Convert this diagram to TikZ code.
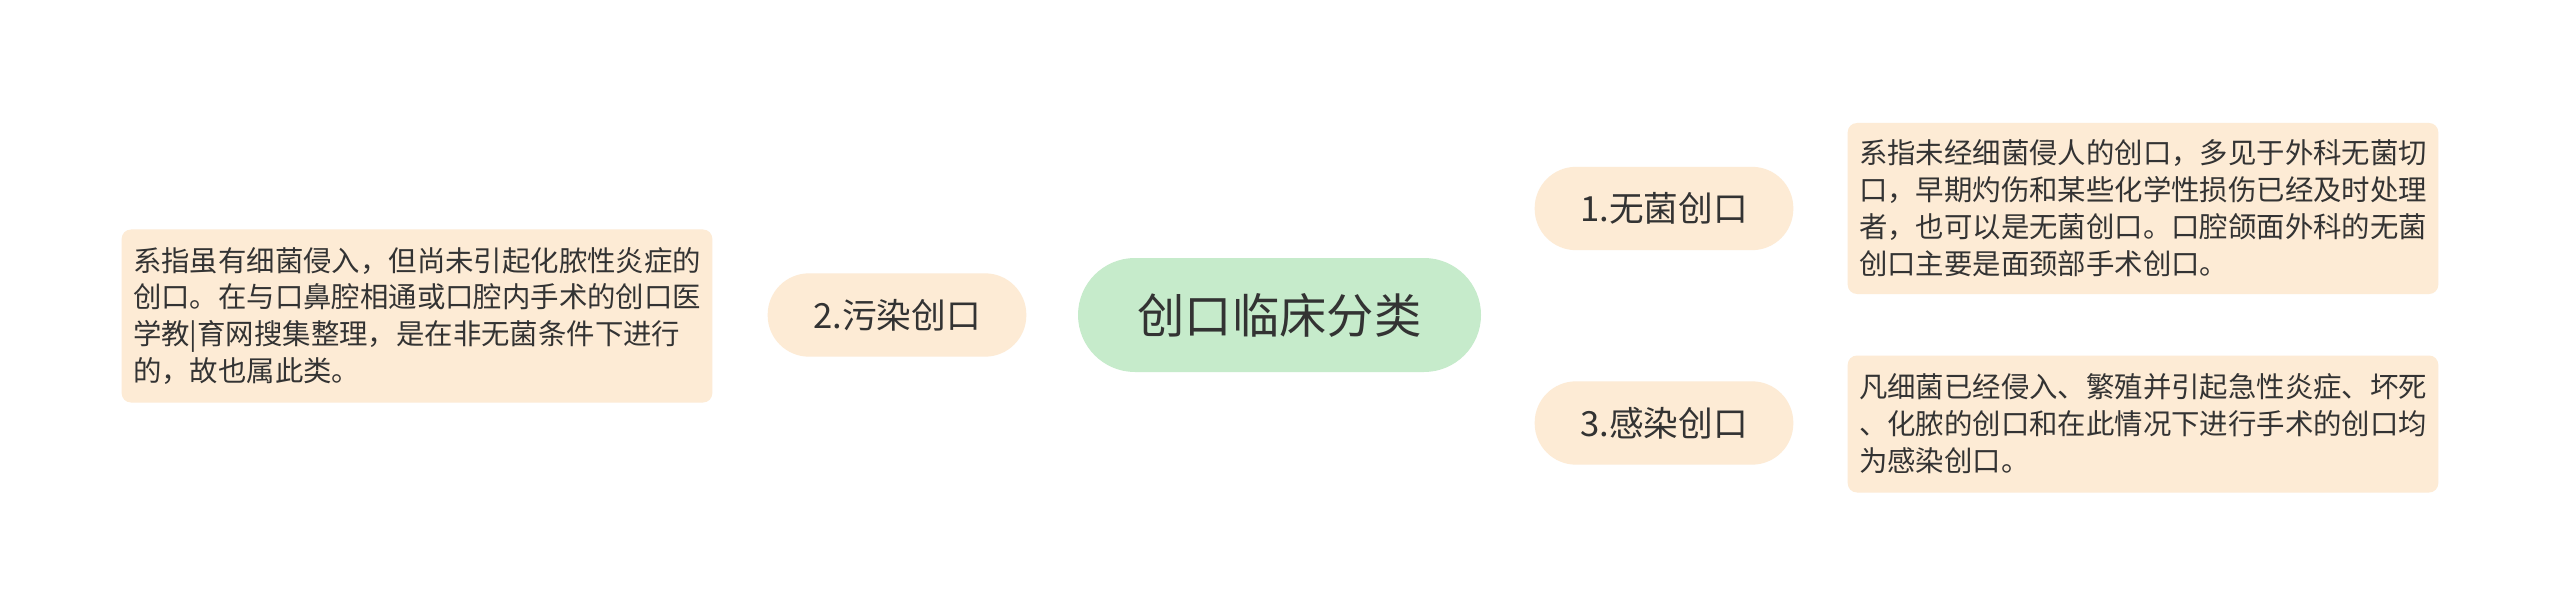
\documentclass[tikz,border=0pt]{standalone}
\usepackage{fontspec}
\setmainfont{Noto Sans CJK SC}
\usetikzlibrary{backgrounds}
\definecolor{rootfill}{HTML}{C6EBCB}
\definecolor{peach}{HTML}{FDEBD5}
\definecolor{linkgreen}{HTML}{BFE6C6}
\definecolor{txt}{HTML}{333333}
\tikzset{
  rootnode/.style={fill=rootfill, text=txt, rounded corners=42.75pt, minimum width=302.25pt, minimum height=85.5pt, inner sep=0pt, font=\fontsize{35.5}{40}\selectfont},
  topicnode/.style={fill=peach, text=txt, rounded corners=31pt, minimum width=194pt, minimum height=62.5pt, inner sep=0pt, font=\fontsize{26}{30}\selectfont},
  leafnode/.style={fill=peach, text=txt, rounded corners=7pt, text width=426pt, inner xsep=8.5pt, inner ysep=0pt, align=left, font=\fontsize{21.3}{27.7}\selectfont},
  link/.style={draw=linkgreen, line width=2.6pt}
}
\begin{document}
\begin{tikzpicture}[x=0.75pt,y=-0.75pt]
\path[use as bounding box, fill=white] (0,0) rectangle (2560,613);
\node[rootnode] (root) at (1279.5,315) {创口临床分类};
\node[topicnode] (t1) at (1664,208.5) {1.无菌创口};
\node[topicnode] (t2) at (897,315) {2.污染创口};
\node[topicnode] (t3) at (1664,423) {3.感染创口};
\node[leafnode, minimum height=128.25pt] (l1) at (2143,208.5) {系指未经细菌侵人的创口，多见于外科无菌切\\口，早期灼伤和某些化学性损伤已经及时处理\\者，也可以是无菌创口。口腔颌面外科的无菌\\创口主要是面颈部手术创口。};
\node[leafnode, minimum height=129.75pt] (l2) at (417,316) {系指虽有细菌侵入，但尚未引起化脓性炎症的\\创口。在与口鼻腔相通或口腔内手术的创口医\\学教|育网搜集整理，是在非无菌条件下进行\\的，故也属此类。};
\node[leafnode, minimum height=102.75pt] (l3) at (2143,424) {凡细菌已经侵入、繁殖并引起急性炎症、坏死\\、化脓的创口和在此情况下进行手术的创口均\\为感染创口。};
\begin{pgfonlayer}{background}
\draw[link] (root.center) .. controls +(25,-100) and +(-135,0) .. (t1.west);
\draw[link] (root.center) .. controls +(25,100) and +(-135,0) .. (t3.west);
\draw[link] (root.center) -- (t2.center);
\draw[link] (t2.center) -- (l2.center);
\draw[link] (t1.center) -- (l1.center);
\draw[link] (t3.center) -- (l3.center);
\end{pgfonlayer}
\end{tikzpicture}
\end{document}
